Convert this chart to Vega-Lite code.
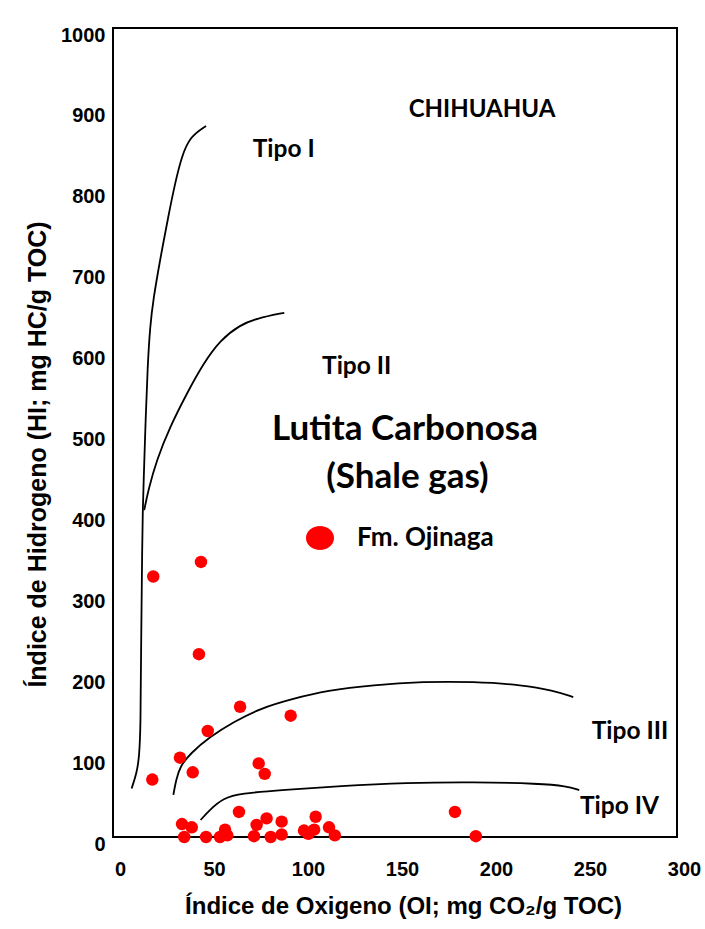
{
  "$schema": "https://vega.github.io/schema/vega-lite/v6.json",
  "width": 564,
  "height": 809,
  "autosize": {"type": "none"},
  "padding": {"left": 113, "top": 28, "right": 28, "bottom": 92},
  "background": "white",
  "config": {
    "view": {"stroke": "black", "strokeWidth": 2},
    "axis": {
      "ticks": false, "tickSize": 0, "domain": false, "grid": false, "labelFlush": false,
      "labelFont": "Liberation Sans", "labelFontWeight": "bold", "labelFontSize": 20, "labelColor": "black",
      "titleFont": "Liberation Sans", "titleFontWeight": "bold", "titleFontSize": 24, "titleColor": "black"
    }
  },
  "datasets": {
    "curves": [
      {"curve": "I", "ord": 1, "oi": 9.9, "hi": 60},
      {"curve": "I", "ord": 2, "oi": 12.6, "hi": 79},
      {"curve": "I", "ord": 3, "oi": 14.0, "hi": 99},
      {"curve": "I", "ord": 4, "oi": 14.7, "hi": 141},
      {"curve": "I", "ord": 5, "oi": 14.8, "hi": 202},
      {"curve": "I", "ord": 6, "oi": 15.2, "hi": 285},
      {"curve": "I", "ord": 7, "oi": 15.5, "hi": 355},
      {"curve": "I", "ord": 8, "oi": 15.8, "hi": 400},
      {"curve": "I", "ord": 9, "oi": 16.3, "hi": 440},
      {"curve": "I", "ord": 10, "oi": 17.4, "hi": 519},
      {"curve": "I", "ord": 11, "oi": 18.4, "hi": 581},
      {"curve": "I", "ord": 12, "oi": 19.7, "hi": 631},
      {"curve": "I", "ord": 13, "oi": 21.4, "hi": 664},
      {"curve": "I", "ord": 14, "oi": 25.0, "hi": 713},
      {"curve": "I", "ord": 15, "oi": 29.4, "hi": 767},
      {"curve": "I", "ord": 16, "oi": 33.0, "hi": 808},
      {"curve": "I", "ord": 17, "oi": 36.5, "hi": 841},
      {"curve": "I", "ord": 18, "oi": 41.0, "hi": 866},
      {"curve": "I", "ord": 19, "oi": 49.5, "hi": 879},
      {"curve": "II", "ord": 1, "oi": 16.6, "hi": 404},
      {"curve": "II", "ord": 2, "oi": 18.8, "hi": 429},
      {"curve": "II", "ord": 3, "oi": 23.2, "hi": 466},
      {"curve": "II", "ord": 4, "oi": 30.3, "hi": 507},
      {"curve": "II", "ord": 5, "oi": 39.2, "hi": 548},
      {"curve": "II", "ord": 6, "oi": 48.0, "hi": 585},
      {"curve": "II", "ord": 7, "oi": 56.9, "hi": 614},
      {"curve": "II", "ord": 8, "oi": 67.6, "hi": 633},
      {"curve": "II", "ord": 9, "oi": 76.4, "hi": 641},
      {"curve": "II", "ord": 10, "oi": 91.1, "hi": 648},
      {"curve": "III", "ord": 1, "oi": 32.1, "hi": 52},
      {"curve": "III", "ord": 2, "oi": 33.5, "hi": 70},
      {"curve": "III", "ord": 3, "oi": 35.6, "hi": 87},
      {"curve": "III", "ord": 4, "oi": 41.0, "hi": 103},
      {"curve": "III", "ord": 5, "oi": 51.6, "hi": 124},
      {"curve": "III", "ord": 6, "oi": 64.0, "hi": 142},
      {"curve": "III", "ord": 7, "oi": 78.2, "hi": 159},
      {"curve": "III", "ord": 8, "oi": 95.9, "hi": 171},
      {"curve": "III", "ord": 9, "oi": 113.7, "hi": 181},
      {"curve": "III", "ord": 10, "oi": 138.5, "hi": 188},
      {"curve": "III", "ord": 11, "oi": 165.0, "hi": 192},
      {"curve": "III", "ord": 12, "oi": 191.6, "hi": 192},
      {"curve": "III", "ord": 13, "oi": 218.0, "hi": 188},
      {"curve": "III", "ord": 14, "oi": 234.0, "hi": 181},
      {"curve": "III", "ord": 15, "oi": 244.8, "hi": 173},
      {"curve": "IV", "ord": 1, "oi": 46.6, "hi": 21},
      {"curve": "IV", "ord": 2, "oi": 51.6, "hi": 34},
      {"curve": "IV", "ord": 3, "oi": 58.7, "hi": 48},
      {"curve": "IV", "ord": 4, "oi": 67.6, "hi": 54},
      {"curve": "IV", "ord": 5, "oi": 90.6, "hi": 58},
      {"curve": "IV", "ord": 6, "oi": 120.7, "hi": 63},
      {"curve": "IV", "ord": 7, "oi": 156.0, "hi": 67},
      {"curve": "IV", "ord": 8, "oi": 191.6, "hi": 68},
      {"curve": "IV", "ord": 9, "oi": 227.0, "hi": 66},
      {"curve": "IV", "ord": 10, "oi": 241.3, "hi": 63},
      {"curve": "IV", "ord": 11, "oi": 248.0, "hi": 58}
    ],
    "samples": [
      {"oi": 46.8, "hi": 340}, {"oi": 21.4, "hi": 322}, {"oi": 45.7, "hi": 226},
      {"oi": 67.6, "hi": 161}, {"oi": 94.5, "hi": 150}, {"oi": 50.4, "hi": 131},
      {"oi": 35.6, "hi": 98}, {"oi": 42.4, "hi": 80}, {"oi": 77.5, "hi": 91},
      {"oi": 80.7, "hi": 78}, {"oi": 20.9, "hi": 71}, {"oi": 67.0, "hi": 31},
      {"oi": 107.8, "hi": 25}, {"oi": 36.7, "hi": 16}, {"oi": 41.9, "hi": 12},
      {"oi": 37.9, "hi": 0}, {"oi": 49.5, "hi": 0}, {"oi": 56.9, "hi": 0},
      {"oi": 59.6, "hi": 9}, {"oi": 60.8, "hi": 2}, {"oi": 76.4, "hi": 15},
      {"oi": 81.7, "hi": 23}, {"oi": 75.0, "hi": 1}, {"oi": 83.9, "hi": 0},
      {"oi": 89.7, "hi": 19}, {"oi": 89.7, "hi": 3}, {"oi": 101.6, "hi": 8},
      {"oi": 103.9, "hi": 4}, {"oi": 107.0, "hi": 9}, {"oi": 114.9, "hi": 12},
      {"oi": 118.0, "hi": 2}, {"oi": 181.9, "hi": 31}, {"oi": 193.0, "hi": 1}
    ],
    "labels": [
      {"text": "CHIHUAHUA", "kind": "place", "oi": 196.3, "hi": 899},
      {"text": "Tipo I", "kind": "tipo", "oi": 74.3, "hi": 849},
      {"text": "Tipo II", "kind": "tipo", "oi": 111.2, "hi": 581},
      {"text": "Tipo III", "kind": "tipo", "oi": 254.6, "hi": 130},
      {"text": "Tipo IV", "kind": "tipo", "oi": 248.4, "hi": 37.5},
      {"text": "Lutita Carbonosa", "kind": "rock", "oi": 155.3, "hi": 504},
      {"text": "(Shale gas)", "kind": "rock", "oi": 156.6, "hi": 445}
    ],
    "legend": [
      {"text": "Fm. Ojinaga", "oi": 110.1, "hi": 369.6}
    ]
  },
  "layer": [
    {
      "data": {"name": "curves"},
      "mark": {"type": "line", "color": "black", "strokeWidth": 1.8, "interpolate": "basis"},
      "encoding": {
        "x": {"field": "oi", "type": "quantitative",
          "scale": {"domain": [0, 300], "nice": false},
          "axis": {"title": "Índice de Oxigeno (OI; mg CO₂/g TOC)", "values": [0, 50, 100, 150, 200, 250, 300], "format": "d",
            "labelPadding": 22, "labelOffset": 7, "titleX": 290, "titleY": 69, "titleBaseline": "middle"}},
        "y": {"field": "hi", "type": "quantitative",
          "scale": {"domain": [0, 1000], "nice": false},
          "axis": {"title": "Índice de Hidrogeno (HI; mg HC/g TOC)", "values": [0, 100, 200, 300, 400, 500, 600, 700, 800, 900, 1000], "format": "d",
            "labelPadding": 8, "labelOffset": 7, "titleFontSize": 25, "titleX": -76, "titleY": 426, "titleAngle": -90, "titleBaseline": "middle", "titleAlign": "center"}},
        "detail": {"field": "curve"},
        "order": {"field": "ord", "type": "quantitative"}
      }
    },
    {
      "data": {"name": "samples"},
      "mark": {"type": "point", "shape": "circle", "filled": true, "color": "#ff0000", "opacity": 1, "size": 155},
      "encoding": {
        "x": {"field": "oi", "type": "quantitative"},
        "y": {"field": "hi", "type": "quantitative"}
      }
    },
    {
      "data": {"name": "legend"},
      "mark": {"type": "point", "shape": "M -1,0 A 1,0.86 0 1,1 1,0 A 1,0.86 0 1,1 -1,0 Z", "filled": true, "color": "#ff0000", "opacity": 1, "size": 784},
      "encoding": {
        "x": {"field": "oi", "type": "quantitative"},
        "y": {"field": "hi", "type": "quantitative"}
      }
    },
    {
      "data": {"name": "legend"},
      "mark": {"type": "text", "font": "Lato", "fontWeight": "bold", "fontSize": 26, "align": "left", "baseline": "middle", "dx": 37, "color": "black"},
      "encoding": {
        "x": {"field": "oi", "type": "quantitative"},
        "y": {"field": "hi", "type": "quantitative"},
        "text": {"field": "text"}
      }
    },
    {
      "data": {"name": "labels"},
      "transform": [{"filter": "datum.kind === 'tipo'"}],
      "mark": {"type": "text", "font": "Lato", "fontWeight": "bold", "fontSize": 24.5, "align": "left", "baseline": "middle", "color": "black"},
      "encoding": {
        "x": {"field": "oi", "type": "quantitative"},
        "y": {"field": "hi", "type": "quantitative"},
        "text": {"field": "text"}
      }
    },
    {
      "data": {"name": "labels"},
      "transform": [{"filter": "datum.kind === 'place'"}],
      "mark": {"type": "text", "font": "Lato", "fontWeight": "bold", "fontSize": 24, "align": "center", "baseline": "middle", "color": "black"},
      "encoding": {
        "x": {"field": "oi", "type": "quantitative"},
        "y": {"field": "hi", "type": "quantitative"},
        "text": {"field": "text"}
      }
    },
    {
      "data": {"name": "labels"},
      "transform": [{"filter": "datum.kind === 'rock'"}],
      "mark": {"type": "text", "font": "Lato", "fontWeight": "bold", "fontSize": 35, "align": "center", "baseline": "middle", "color": "black"},
      "encoding": {
        "x": {"field": "oi", "type": "quantitative"},
        "y": {"field": "hi", "type": "quantitative"},
        "text": {"field": "text"}
      }
    }
  ]
}
